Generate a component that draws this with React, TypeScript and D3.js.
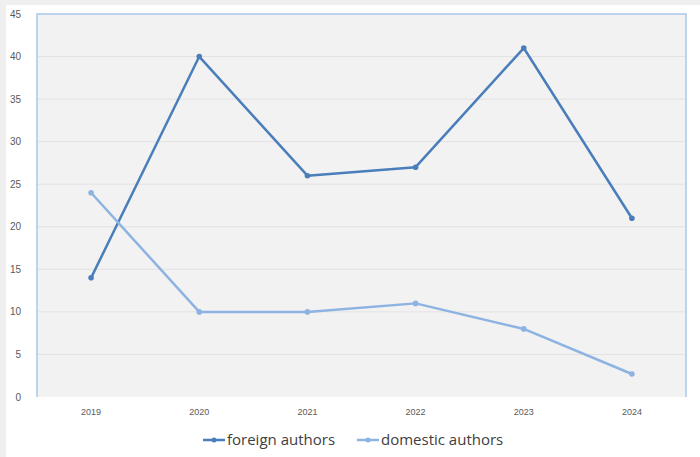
import React from 'react';
import * as d3 from 'd3';

const years = ['2019', '2020', '2021', '2022', '2023', '2024'];
const foreignAuthors = [14, 40, 26, 27, 41, 21];
const domesticAuthors = [24, 10, 10, 11, 8, 2.7];
const yTicks = [0, 5, 10, 15, 20, 25, 30, 35, 40, 45];

const seriesList = [
  { name: 'foreign authors', values: foreignAuthors, color: '#4a7ebb' },
  { name: 'domestic authors', values: domesticAuthors, color: '#8db3e2' },
];

const W = 700;
const H = 457;
const margin = { top: 14, right: 14, bottom: 60, left: 37 };

const App: React.FC = () => {
  const innerW = W - margin.left - margin.right;
  const innerH = H - margin.top - margin.bottom;

  const x = d3.scalePoint<string>().domain(years).range([0, innerW]).padding(0.5);
  const y = d3.scaleLinear().domain([0, 45]).range([innerH, 0]);

  const line = d3.line<number>()
    .x((_, i) => x(years[i]) as number)
    .y(d => y(d));

  const font = "'Liberation Sans', 'DejaVu Sans', sans-serif";

  return (
    <div style={{ position: 'fixed', left: 0, top: 0, width: W, height: H }}>
      <svg width={W} height={H} style={{ display: 'block' }}>
        <rect width={W} height={H} fill="#efefef" />
        <rect x={6} y={5} width={W - 6} height={H - 5} fill="#ffffff" />
        <g transform={`translate(${margin.left},${margin.top})`}>
          <rect width={innerW} height={innerH} fill="#f2f2f2" />
          {yTicks.map(t => (
            <g key={t}>
              {t > 0 && t < 45 && (
                <line x1={0} x2={innerW} y1={y(t)} y2={y(t)} stroke="#e2e2e2" strokeWidth={1} />
              )}
              <text x={-16} y={y(t)} dy="0.35em" textAnchor="end" fontSize={10}
                fill="#595959" fontFamily={font}>{t}</text>
            </g>
          ))}
          <path d={`M0,${innerH}V0H${innerW}V${innerH}`} fill="none" stroke="#a9c8ea" strokeWidth={1.5} />
          {years.map(yr => (
            <text key={yr} x={x(yr)} y={innerH + 18} textAnchor="middle" fontSize={9}
              fill="#595959" fontFamily={font}>{yr}</text>
          ))}
          {seriesList.map(s => (
            <g key={s.name}>
              <path d={line(s.values) || ''} fill="none" stroke={s.color} strokeWidth={2.5}
                strokeLinejoin="round" />
              {s.values.map((v, i) => (
                <circle key={i} cx={x(years[i])} cy={y(v)} r={2.8} fill={s.color} />
              ))}
            </g>
          ))}
        </g>
        <g transform="translate(0,440)" fontFamily="'Open Sans', 'Liberation Sans', sans-serif"
          fontSize={15} fill="#404040">
          {seriesList.map((s, i) => {
            const x0 = i === 0 ? 203 : 357;
            return (
              <g key={s.name}>
                <line x1={x0} x2={x0 + 22} y1={0} y2={0} stroke={s.color} strokeWidth={2.5} />
                <circle cx={x0 + 11} cy={0} r={2.5} fill={s.color} />
                <text x={x0 + 24} y={0} dy="0.35em">{s.name}</text>
              </g>
            );
          })}
        </g>
      </svg>
    </div>
  );
};

export default App;
